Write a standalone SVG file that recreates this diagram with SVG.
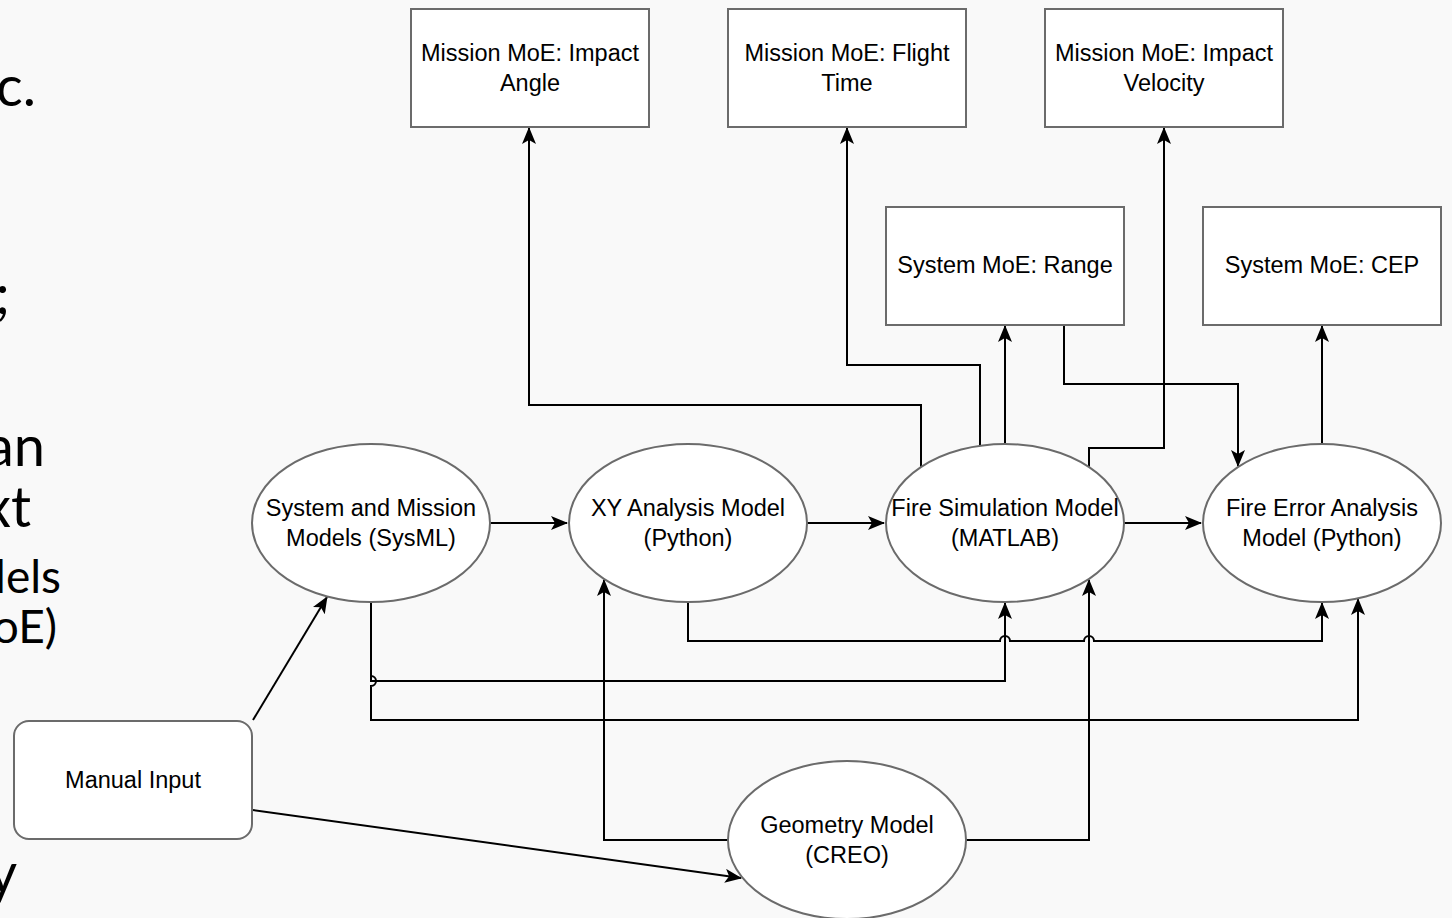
<svg xmlns="http://www.w3.org/2000/svg" width="1452" height="918" viewBox="0 0 1452 918">
<defs>
<style>
.bg{fill:#f9f9f9}
.node{fill:#ffffff;stroke:#6b6b6b;stroke-width:2}
.lbl{font-family:"Liberation Sans",Arial,Helvetica,sans-serif;font-size:23.5px;fill:#000;text-anchor:middle}
.edge{fill:none;stroke:#000;stroke-width:2}
.arr{marker-end:url(#ah)}
.slide{font-family:Lato,"Open Sans",sans-serif;fill:#000;text-anchor:end}
</style>
<marker id="ah" markerUnits="userSpaceOnUse" viewBox="0 0 17 14" refX="16" refY="7" markerWidth="17" markerHeight="14" orient="auto">
<path d="M0,0 L17,7 L0,14 L4,7 z" fill="#000"/>
</marker>
</defs>
<rect class="bg" x="0" y="0" width="1452" height="918"/>

<g id="slide-text">
<text class="slide" x="36" y="106" font-size="56">c.</text>
<text class="slide" x="10" y="314" font-size="56">;</text>
<text class="slide" x="45" y="466" font-size="56">an</text>
<text class="slide" x="31" y="527" font-size="56">xt</text>
<text class="slide" x="61" y="593" font-size="46">lels</text>
<text class="slide" x="57" y="643" font-size="46">oE)</text>
<text class="slide" x="17" y="893" font-size="56">y</text>
</g>

<g id="connectors">
<path class="edge arr" d="M490,523 L567,523"/>
<path class="edge arr" d="M807,523 L884,523"/>
<path class="edge arr" d="M1124,523 L1201,523"/>
<path class="edge arr" d="M253,720 L327,597"/>
<path class="edge arr" d="M253,810 L741,878"/>
<path class="edge arr" d="M921,467 L921,405 L529,405 L529,128"/>
<path class="edge arr" d="M980,446 L980,365 L847,365 L847,128"/>
<path class="edge arr" d="M1005,444 L1005,326"/>
<path class="edge arr" d="M1089,467 L1089,448 L1164,448 L1164,128"/>
<path class="edge arr" d="M1064,325 L1064,384 L1238,384 L1238,466"/>
<path class="edge arr" d="M1322,444 L1322,326"/>
<path class="edge arr" d="M688,602 L688,641 L1000,641 A5,5 0 0 1 1010,641 L1084,641 A5,5 0 0 1 1094,641 L1322,641 L1322,603"/>
<path class="edge arr" d="M371,602 L371,681 L1005,681 L1005,603"/>
<path class="edge arr" d="M371,602 L371,676 A5,5 0 0 1 371,686 L371,720 L1358,720 L1358,599"/>
<path class="edge arr" d="M728,840 L604,840 L604,580"/>
<path class="edge arr" d="M966,840 L1089,840 L1089,580"/>
</g>

<g id="box-impact-angle">
<rect class="node" x="411" y="9" width="238" height="118"/>
<text class="lbl" x="530" y="61">Mission MoE: Impact</text>
<text class="lbl" x="530" y="91">Angle</text>
</g>
<g id="box-flight-time">
<rect class="node" x="728" y="9" width="238" height="118"/>
<text class="lbl" x="847" y="61">Mission MoE: Flight</text>
<text class="lbl" x="847" y="91">Time</text>
</g>
<g id="box-impact-velocity">
<rect class="node" x="1045" y="9" width="238" height="118"/>
<text class="lbl" x="1164" y="61">Mission MoE: Impact</text>
<text class="lbl" x="1164" y="91">Velocity</text>
</g>
<g id="box-range">
<rect class="node" x="886" y="207" width="238" height="118"/>
<text class="lbl" x="1005" y="273">System MoE: Range</text>
</g>
<g id="box-cep">
<rect class="node" x="1203" y="207" width="238" height="118"/>
<text class="lbl" x="1322" y="273">System MoE: CEP</text>
</g>

<g id="node-sysml">
<ellipse class="node" cx="371" cy="523" rx="119" ry="79"/>
<text class="lbl" x="371" y="516">System and Mission</text>
<text class="lbl" x="371" y="546">Models (SysML)</text>
</g>
<g id="node-xy">
<ellipse class="node" cx="688" cy="523" rx="119" ry="79"/>
<text class="lbl" x="688" y="516">XY Analysis Model</text>
<text class="lbl" x="688" y="546">(Python)</text>
</g>
<g id="node-fire-sim">
<ellipse class="node" cx="1005" cy="523" rx="119" ry="79"/>
<text class="lbl" x="1005" y="516">Fire Simulation Model</text>
<text class="lbl" x="1005" y="546">(MATLAB)</text>
</g>
<g id="node-fire-error">
<ellipse class="node" cx="1322" cy="523" rx="119" ry="79"/>
<text class="lbl" x="1322" y="516">Fire Error Analysis</text>
<text class="lbl" x="1322" y="546">Model (Python)</text>
</g>
<g id="node-geometry">
<ellipse class="node" cx="847" cy="840" rx="119" ry="79"/>
<text class="lbl" x="847" y="833">Geometry Model</text>
<text class="lbl" x="847" y="863">(CREO)</text>
</g>
<g id="node-manual">
<rect class="node" x="14" y="721" width="238" height="118" rx="15" ry="15"/>
<text class="lbl" x="133" y="788">Manual Input</text>
</g>
</svg>
